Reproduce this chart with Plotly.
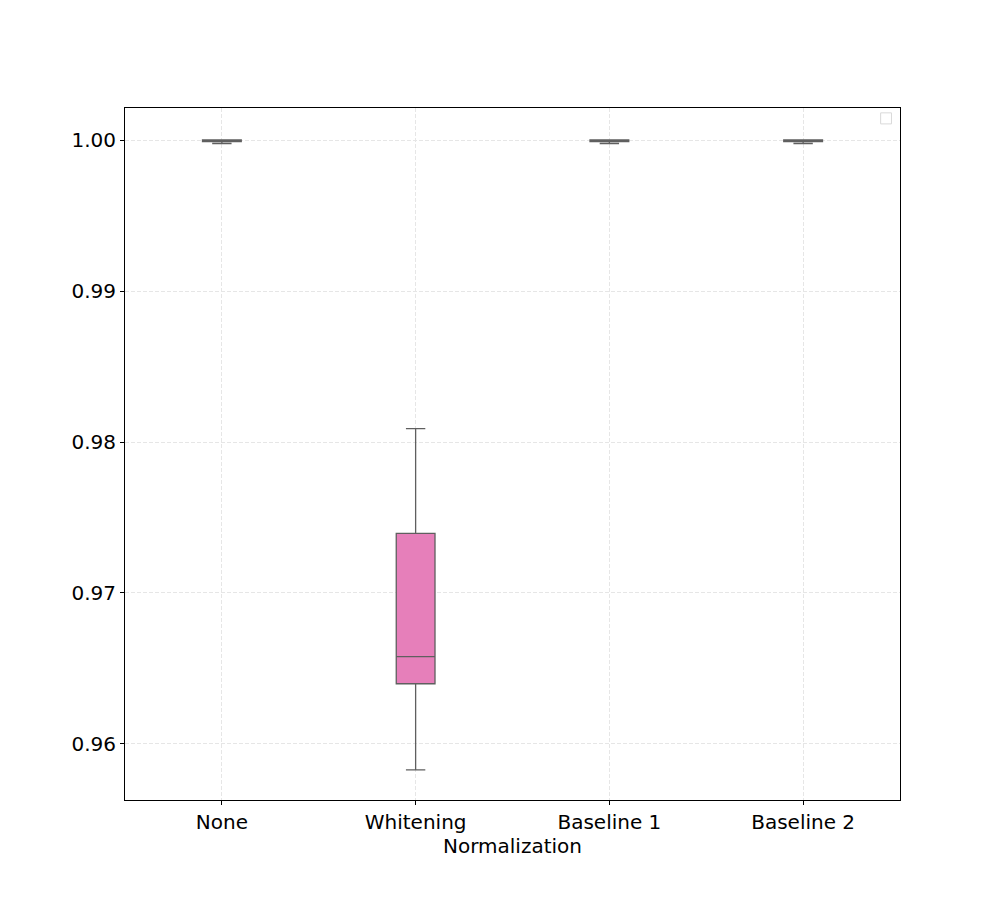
import plotly.graph_objects as go

categories = ["None", "Whitening", "Baseline 1", "Baseline 2"]
lower_fence = [0.99977, 0.95828, 0.99977, 0.99977]
q1_vals = [0.99990, 0.96399, 0.99990, 0.99990]
median_vals = [0.99997, 0.96578, 0.99997, 0.99997]
q3_vals = [1.00000, 0.97395, 1.00000, 1.00000]
upper_fence = [1.00000, 0.98088, 1.00000, 1.00000]
fill_colors = ["#e67fba", "#e67fba", "#e67fba", "#e67fba"]

tick_vals = [0.96, 0.97, 0.98, 0.99, 1.00]
tick_text = ["0.96", "0.97", "0.98", "0.99", "1.00"]

fig = go.Figure()
for i, c in enumerate(categories):
    fig.add_trace(go.Box(
        x=[c],
        q1=[q1_vals[i]], median=[median_vals[i]], q3=[q3_vals[i]],
        lowerfence=[lower_fence[i]], upperfence=[upper_fence[i]],
        fillcolor=fill_colors[i],
        line=dict(color="#5f5f5f", width=1.3),
        width=0.2,
        whiskerwidth=0.5,
        boxpoints=False,
        showlegend=False,
        hoverinfo="skip",
    ))

fig.add_shape(type="rect", xref="paper", yref="paper",
              x0=0.975, x1=0.989, y0=0.977, y1=0.993,
              line=dict(color="#d9d9d9", width=1), fillcolor="white")

axis_common = dict(
    showline=True, linecolor="black", linewidth=1, mirror=True,
    ticks="outside", ticklen=4, tickwidth=1, tickcolor="black",
    showgrid=True, gridcolor="#e6e6e6", griddash="4px,2px", gridwidth=1,
    zeroline=False,
    tickfont=dict(size=20, color="black", family="DejaVu Sans"),
)

fig.update_layout(
    width=1000, height=900,
    margin=dict(l=125, r=100, t=108, b=100),
    plot_bgcolor="white", paper_bgcolor="white",
    font=dict(family="DejaVu Sans", color="black"),
    xaxis=dict(**axis_common, categoryorder="array", categoryarray=categories,
               range=[-0.5, 3.5],
               title=dict(text="Normalization", font=dict(size=20), standoff=3)),
    yaxis=dict(**axis_common, range=[0.95629, 1.00212],
               tickvals=tick_vals, ticktext=tick_text),
)

fig.write_html("out.html")
